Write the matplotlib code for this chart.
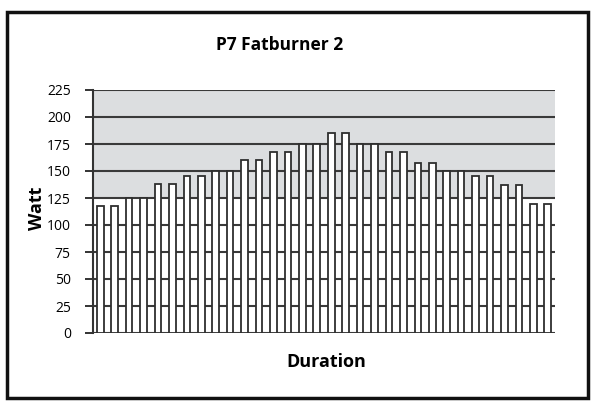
import matplotlib
matplotlib.use("Agg")
import matplotlib.pyplot as plt
from matplotlib.patches import Rectangle

plt.rcParams['font.family'] = ['Open Sans', 'DejaVu Sans']

# watt per interval
watts = [118, 118, 125, 125, 138, 138, 145, 145, 150, 150, 160, 160,
         168, 168, 175, 175, 185, 185, 175, 175, 168, 168, 157, 157,
         150, 150, 145, 145, 137, 137, 119, 119]
yticks = [0, 25, 50, 75, 100, 125, 150, 175, 200, 225]
title = "P7 Fatburner 2"
xlabel = "Duration"
ylabel = "Watt"


def main():
    fig = plt.figure(figsize=(5.96, 4.04), dpi=100)
    fig.patch.set_facecolor('white')

    # outer frame around the whole chart
    fig.patches.append(Rectangle((7 / 596, 1 - 398 / 404), 581 / 596, 386 / 404,
                                 transform=fig.transFigure, fill=False,
                                 edgecolor='#111111', linewidth=2.5))

    ax = fig.add_axes([93 / 596, 1 - 333 / 404, 462 / 596, 243 / 404])
    ax.set_facecolor('white')

    # grey band in the upper part of the plot area
    ax.axhspan(125, 225, color='#dcdee0', zorder=0, lw=0)

    for y in yticks:
        ax.axhline(y, color='#3a3a3a', linewidth=1.5, zorder=1)

    x = list(range(len(watts)))
    ax.bar(x, watts, width=0.46, color='white', edgecolor='#2e2e2e',
           linewidth=1.3, zorder=2)

    ax.set_xlim(-0.5, len(watts) - 0.5)
    ax.set_ylim(0, 225)
    ax.set_yticks(yticks)
    ax.set_yticklabels([str(v) for v in yticks], fontsize=10)
    ax.set_xticks([])
    ax.tick_params(axis='y', length=6, width=1.4, color='#333333', pad=10)

    for side in ['top', 'right', 'bottom']:
        ax.spines[side].set_visible(False)
    ax.spines['left'].set_color('#333333')
    ax.spines['left'].set_linewidth(1.5)

    fig.text(280 / 596, 1 - 45 / 404, title, ha='center', va='center',
             fontsize=12.5, fontweight='bold')
    fig.text(326 / 596, 1 - 362 / 404, xlabel, ha='center', va='center',
             fontsize=13, fontweight='bold')
    fig.text(37 / 596, 1 - 208 / 404, ylabel, ha='center', va='center',
             fontsize=13, fontweight='bold', rotation=90)

    fig.savefig("out.png", dpi=100)


if __name__ == "__main__":
    main()
